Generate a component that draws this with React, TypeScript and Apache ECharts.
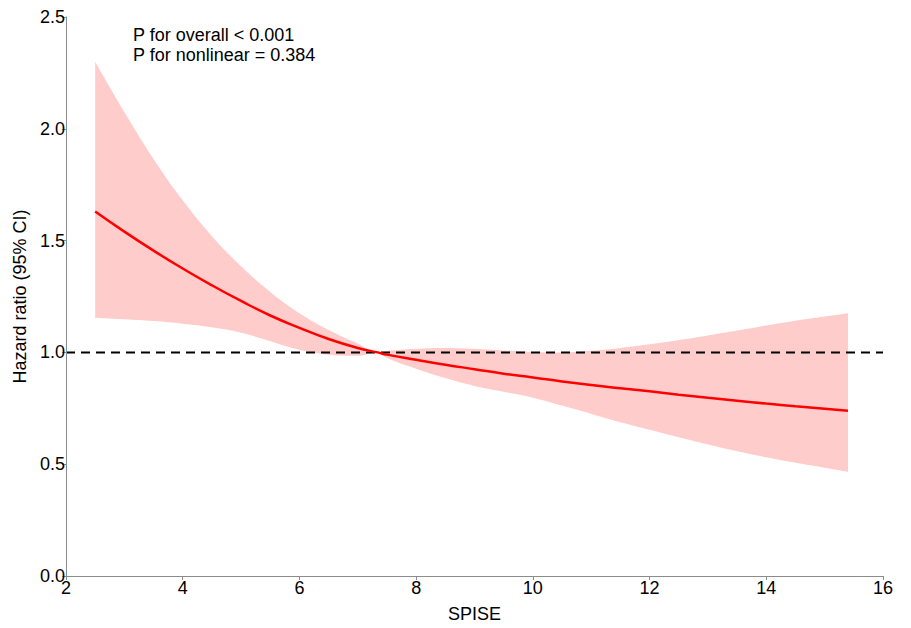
import React, { useEffect, useRef } from "react";
import * as echarts from "echarts";

const xValues = [2.5, 3, 3.5, 4, 4.5, 5, 5.5, 6, 6.5, 7, 7.34, 7.5, 8, 8.5, 9, 9.5, 10, 10.5, 11, 11.5, 12, 12.5, 13, 13.5, 14, 14.5, 15, 15.4];
const hazardRatio = [1.63, 1.54, 1.455, 1.375, 1.3, 1.23, 1.165, 1.11, 1.06, 1.02, 1.0, 0.99, 0.967, 0.945, 0.925, 0.905, 0.888, 0.87, 0.854, 0.84, 0.826, 0.811, 0.797, 0.784, 0.771, 0.759, 0.748, 0.739];
const upperCI = [2.3, 2.075, 1.865, 1.68, 1.52, 1.385, 1.27, 1.175, 1.1, 1.04, 1.0, 1.006, 1.016, 1.02, 1.016, 1.008, 1.002, 1.0, 1.007, 1.02, 1.036, 1.055, 1.076, 1.098, 1.12, 1.141, 1.16, 1.175];
const lowerCI = [1.155, 1.148, 1.14, 1.128, 1.112, 1.088, 1.05, 1.012, 0.99, 0.985, 1.0, 0.975, 0.927, 0.885, 0.85, 0.824, 0.797, 0.762, 0.725, 0.688, 0.654, 0.62, 0.588, 0.558, 0.531, 0.506, 0.484, 0.466];
const referenceValue = 1;
const xTicks = [2, 16, 2];
const yTicks = [0, 2.5, 0.5];
const annotation = ["P for overall < 0.001", "P for nonlinear = 0.384"];

const FONT = '"Liberation Sans", Arial, sans-serif';

export default function App() {
  const ref = useRef<HTMLDivElement>(null);
  useEffect(() => {
    if (!ref.current) return;
    const chart = echarts.init(ref.current, undefined, { renderer: "svg" });
    const axisCommon = {
      z: 10,
      axisLine: { show: true, lineStyle: { color: "#8c8c8c", width: 1 } },
      axisTick: { show: true, length: 4, lineStyle: { color: "#8c8c8c" } },
      splitLine: { show: false },
      nameTextStyle: { color: "#000", fontSize: 18, fontFamily: FONT },
    };
    const upperData = xValues.map((x, i) => [x, upperCI[i]]);
    const lowerData = xValues.map((x, i) => [x, lowerCI[i]]);
    const first = 0;
    const last = xValues.length - 1;
    chart.setOption({
      animation: false,
      grid: { left: 66, right: 28, top: 17, bottom: 46, containLabel: false },
      xAxis: {
        type: "value",
        min: xTicks[0],
        max: xTicks[1],
        interval: xTicks[2],
        name: "SPISE",
        nameLocation: "middle",
        nameGap: 29,
        ...axisCommon,
        axisLabel: { color: "#000", fontSize: 18, fontFamily: FONT, margin: 3 },
      },
      yAxis: {
        type: "value",
        min: yTicks[0],
        max: yTicks[1],
        interval: yTicks[2],
        name: "Hazard ratio (95% CI)",
        nameLocation: "middle",
        nameGap: 32,
        ...axisCommon,
        axisLabel: {
          color: "#000",
          fontSize: 18,
          fontFamily: FONT,
          margin: 1,
          formatter: (v: number) => v.toFixed(1),
        },
      },
      graphic: [
        {
          type: "text",
          z: 20,
          left: 133,
          top: 25,
          style: {
            text: annotation.join("\n"),
            font: `18px ${FONT}`,
            fill: "#000",
            lineHeight: 20,
          },
        },
      ],
      series: [
        {
          name: "upper",
          type: "line",
          z: 1,
          silent: true,
          smooth: 0.4,
          showSymbol: false,
          data: upperData,
          lineStyle: { opacity: 0, width: 0 },
          areaStyle: { color: "#FFCCCC", opacity: 1, origin: "start" },
        },
        {
          name: "lower",
          type: "line",
          z: 1.5,
          silent: true,
          smooth: 0.4,
          showSymbol: false,
          data: lowerData,
          lineStyle: { opacity: 0, width: 0 },
          areaStyle: { color: "#FFFFFF", opacity: 1, origin: "start" },
          markLine: {
            silent: true,
            symbol: "none",
            label: { show: false },
            lineStyle: { color: "#FFFFFF", width: 2, type: "solid" },
            data: [
              [
                { coord: [xValues[first], yTicks[0]] },
                { coord: [xValues[first], lowerCI[first] - 0.004] },
              ],
              [
                { coord: [xValues[last], yTicks[0]] },
                { coord: [xValues[last], lowerCI[last] - 0.004] },
              ],
            ],
          },
        },
        {
          type: "line",
          z: 2,
          silent: true,
          showSymbol: false,
          data: [
            [xTicks[0], referenceValue],
            [xTicks[1], referenceValue],
          ],
          lineStyle: { color: "#000", width: 2, type: [9, 6] },
        },
        {
          type: "line",
          z: 3,
          silent: true,
          smooth: true,
          showSymbol: false,
          data: xValues.map((x, i) => [x, hazardRatio[i]]),
          lineStyle: { color: "#FF0000", width: 2.5 },
        },
      ],
    });
    return () => chart.dispose();
  }, []);
  return (
    <div
      ref={ref}
      style={{ position: "fixed", left: 0, top: 0, width: 911, height: 628, background: "#fff" }}
    />
  );
}
